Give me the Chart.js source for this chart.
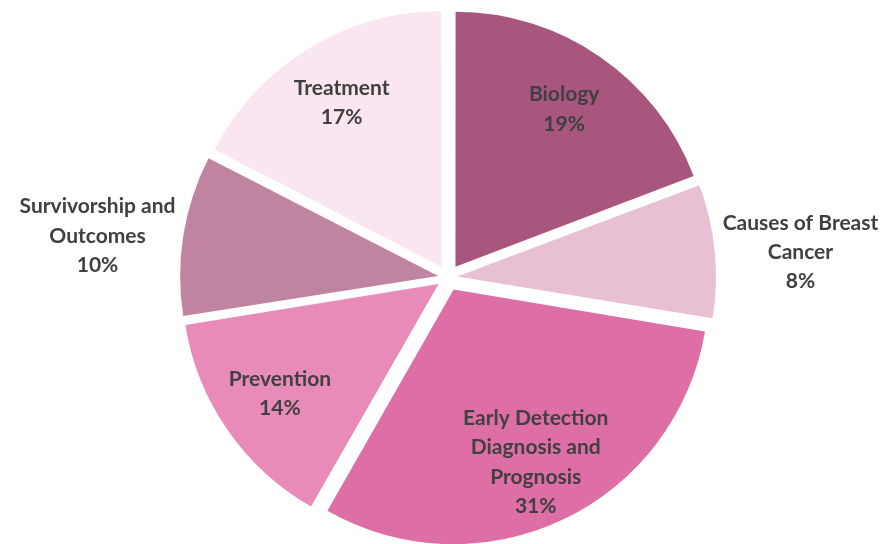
<!DOCTYPE html>
<html>
<head>
<meta charset="utf-8">
<script src="https://cdn.jsdelivr.net/npm/chart.js@4.4.1/dist/chart.umd.min.js"></script>
<style>
  html, body { margin: 0; padding: 0; background: #ffffff; }
  #wrap { width: 888px; height: 544px; position: relative; }
</style>
</head>
<body>
<div id="wrap"><canvas id="pieChart"></canvas></div>
<script>
const categories = [
  ["Biology"],
  ["Causes of Breast", "Cancer"],
  ["Early Detection", "Diagnosis and", "Prognosis"],
  ["Prevention"],
  ["Survivorship and", "Outcomes"],
  ["Treatment"]
];
// shares; labels show them rounded
const shares = [19.2, 8.4, 30.6, 14.2, 10.1, 17.4];
const sliceColors = ["#A8567E", "#E8BFD3", "#DE6FA6", "#E98BB8", "#C084A0", "#FAE6F0"];
const labelOutside = [false, true, false, false, true, false];

const EXPLODE = 14;
const total = shares.reduce((a, b) => a + b, 0);

// chart.js moves small slices further for the same offset, undo that so all move EXPLODE px
function sliceOffset(ctx) {
  const circ = shares[ctx.dataIndex] / total * Math.PI * 2;
  return 4 * EXPLODE / (2 - Math.sin(Math.min(Math.PI, circ)));
}

const labelPlugin = {
  id: "sliceLabels",
  afterDatasetsDraw(chart) {
    const c = chart.ctx;
    const meta = chart.getDatasetMeta(0);
    const lineH = 29.3;
    c.save();
    c.font = "bold 21px Lato";
    c.fillStyle = "#404040";
    c.textAlign = "center";
    c.textBaseline = "middle";
    meta.data.forEach((arc, i) => {
      const p = arc.getProps(["x", "y", "startAngle", "endAngle", "outerRadius"], true);
      const mid = (p.startAngle + p.endAngle) / 2;
      const lines = categories[i].concat([Math.round(shares[i]) + "%"]);
      let cx, cy;
      if (labelOutside[i]) {
        const r = p.outerRadius + EXPLODE + 8;
        const ax = p.x + Math.cos(mid) * r;
        const ay = p.y + Math.sin(mid) * r;
        const w = Math.max(...lines.map(l => c.measureText(l).width));
        cx = Math.cos(mid) >= 0 ? ax + w / 2 : ax - w / 2;
        cy = ay + 2;
      } else {
        const r = p.outerRadius * 0.805;
        cx = p.x + Math.cos(mid) * r;
        cy = p.y + Math.sin(mid) * r;
      }
      const top = cy - (lines.length - 1) * lineH / 2;
      lines.forEach((l, k) => c.fillText(l, cx, top + k * lineH));
    });
    c.restore();
  }
};

const ctx = document.getElementById("pieChart").getContext("2d");

new Chart(ctx, {
  type: "pie",
  data: {
    labels: categories.map(l => l.join(" ")),
    datasets: [
      {
        data: shares,
        backgroundColor: sliceColors,
        borderWidth: 0,
        offset: sliceOffset
      }
    ]
  },
  options: {
    responsive: true,
    maintainAspectRatio: false,
    animation: false,
    radius: 254,
    layout: {
      padding: { left: 8, top: 11 }
    },
    plugins: {
      legend: { display: false },
      tooltip: { enabled: false }
    }
  },
  plugins: [labelPlugin]
});
</script>
</body>
</html>
